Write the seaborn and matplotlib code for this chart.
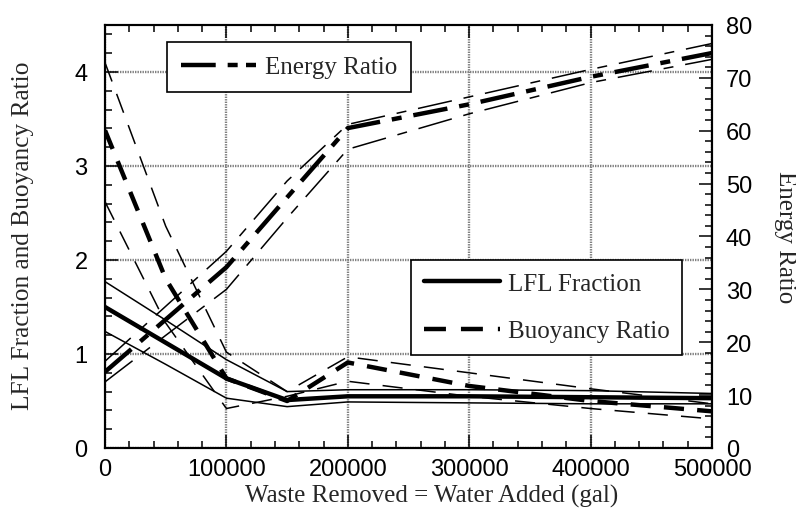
import matplotlib
matplotlib.use('Agg')
import matplotlib.pyplot as plt
import seaborn as sns
from matplotlib.lines import Line2D
from matplotlib.ticker import MultipleLocator, StrMethodFormatter

# waste removed = water added (gal)
gal = [0, 50000, 100000, 150000, 200000, 300000, 400000, 500000]

# LFL fraction (best estimate, upper and lower bound)
lfl_mid = [1.50, 1.12, 0.74, 0.51, 0.55, 0.55, 0.54, 0.53]
lfl_hi = [1.77, 1.36, 0.94, 0.60, 0.62, 0.62, 0.61, 0.58]
lfl_lo = [1.24, 0.89, 0.53, 0.44, 0.49, 0.48, 0.47, 0.47]

# buoyancy ratio
buoy_mid = [3.38, 1.80, 0.74, 0.50, 0.91, 0.66, 0.50, 0.39]
buoy_hi = [4.10, 2.36, 1.02, 0.60, 0.97, 0.80, 0.63, 0.47]
buoy_lo = [2.62, 1.33, 0.42, 0.55, 0.71, 0.55, 0.42, 0.31]

# energy ratio (right axis)
energy_mid = [14.4, 24.3, 34.2, 47.4, 60.5, 65.0, 70.2, 74.7]
energy_hi = [16.4, 26.8, 37.2, 50.5, 61.2, 66.4, 71.6, 76.5]
energy_lo = [12.5, 21.3, 30.0, 43.5, 56.5, 63.2, 69.1, 73.5]

sns.set_style('ticks')
plt.rcParams['font.family'] = ['Liberation Serif', 'DejaVu Serif']
plt.rcParams['lines.scale_dashes'] = False

solid = '-'
dashed = (0, (14.5, 9.5))
dashdot = (0, (25, 8.6, 7.2, 8.6))
thick = 3.2
thin = 1.1

fig = plt.figure(figsize=(7.96, 5.10), dpi=100)
ax = fig.add_axes([105 / 796, 1 - 449 / 510, 607 / 796, 423 / 510])
ax2 = ax.twinx()

for vals, lw in [(lfl_mid, thick), (lfl_hi, thin), (lfl_lo, thin)]:
    sns.lineplot(x=gal, y=vals, ax=ax, color='k', lw=lw, linestyle=solid)
for vals, lw in [(buoy_mid, thick), (buoy_hi, thin), (buoy_lo, thin)]:
    sns.lineplot(x=gal, y=vals, ax=ax, color='k', lw=lw, linestyle=dashed)
for vals, lw in [(energy_mid, thick), (energy_hi, thin), (energy_lo, thin)]:
    sns.lineplot(x=gal, y=vals, ax=ax2, color='k', lw=lw, linestyle=dashdot)

ax.set_xlim(0, 500000)
ax.set_ylim(0, 4.5)
ax2.set_ylim(0, 80)

ax.xaxis.set_major_locator(MultipleLocator(100000))
ax.xaxis.set_minor_locator(MultipleLocator(20000))
ax.yaxis.set_major_locator(MultipleLocator(1))
ax.yaxis.set_minor_locator(MultipleLocator(0.2))
ax2.yaxis.set_major_locator(MultipleLocator(10))
ax2.yaxis.set_minor_locator(MultipleLocator(2))
ax.xaxis.set_major_formatter(StrMethodFormatter('{x:.0f}'))
ax.yaxis.set_major_formatter(StrMethodFormatter('{x:.0f}'))
ax2.yaxis.set_major_formatter(StrMethodFormatter('{x:.0f}'))

ax.grid(True, which='major', color='0.5', linestyle=(0, (1, 0.8)), lw=1.7)
ax2.grid(False)

ax.tick_params(axis='x', which='both', direction='in', top=True, bottom=True,
               colors='k', labelsize=17, labelfontfamily='Liberation Sans', pad=7.5)
ax.tick_params(axis='y', which='both', direction='in', left=True, right=False,
               colors='k', labelsize=17, labelfontfamily='Liberation Sans', pad=12.5)
ax2.tick_params(axis='y', which='both', direction='in', right=True, left=False,
                colors='k', labelsize=17, labelfontfamily='Liberation Sans', pad=10)
for a in (ax, ax2):
    a.tick_params(which='major', length=9.5, width=1.1)
    a.tick_params(which='minor', length=5, width=1.1)
    for s in a.spines.values():
        s.set_color('k')
        s.set_linewidth(1.5)

ax.set_xlabel('Waste Removed = Water Added (gal)', fontsize=18, va='center')
ax.xaxis.set_label_coords(0.538, -0.112)
ax.set_ylabel('LFL Fraction and Buoyancy Ratio', fontsize=18.3, va='center')
ax.yaxis.set_label_coords(-0.135, 0.505)
ax2.set_ylabel('Energy Ratio', fontsize=18, rotation=270, va='center')
ax2.yaxis.set_label_coords(1.12, 0.5)

h_energy = Line2D([], [], color='k', lw=thick, linestyle=(0, (25, 8.6, 7.2, 6, 7.2)))
h_lfl = Line2D([], [], color='k', lw=thick, linestyle=solid)
h_buoy = Line2D([], [], color='k', lw=thick, linestyle=(0, (15.8, 10.8)))

leg_kw = dict(loc='upper left', bbox_transform=fig.transFigure, borderaxespad=0,
              fancybox=False, framealpha=1, edgecolor='k', fontsize=18,
              handlelength=3.04, handletextpad=0.32)
leg1 = ax2.legend([h_energy], ['Energy Ratio'], borderpad=0.55,
                  bbox_to_anchor=(167 / 796, 1 - 43 / 510), **leg_kw)
leg1.get_frame().set_linewidth(1.2)
ax2.add_artist(leg1)
leg2 = ax2.legend([h_lfl, h_buoy], ['LFL Fraction', 'Buoyancy Ratio'], borderpad=0.5,
                  bbox_to_anchor=(411 / 796, 1 - 261 / 510), labelspacing=1.0, **leg_kw)
leg2.get_frame().set_linewidth(1.2)

fig.savefig('out.png', dpi=100)
